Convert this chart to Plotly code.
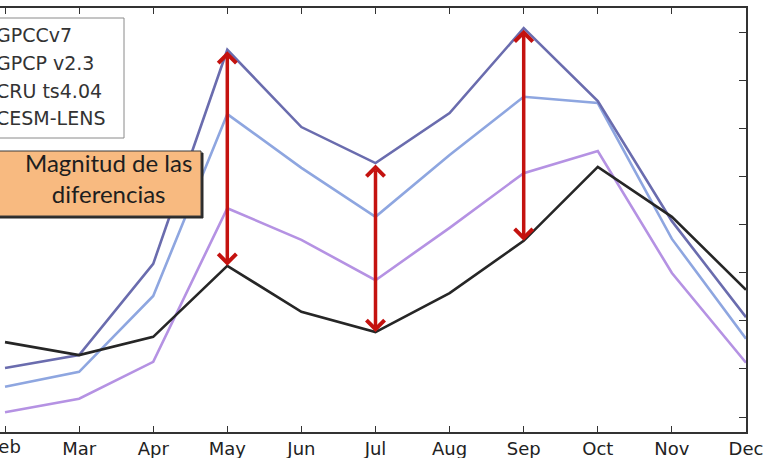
import plotly.graph_objects as go

months = [2, 3, 4, 5, 6, 7, 8, 9, 10, 11, 12]
month_labels = ["Feb", "Mar", "Apr", "May", "Jun", "Jul", "Aug", "Sep", "Oct", "Nov", "Dec"]

gpcc = [2.02, 2.29, 4.19, 8.65, 7.04, 6.29, 7.33, 9.10, 7.58, 5.08, 3.08]
gpcp = [1.63, 1.94, 3.52, 7.31, 6.19, 5.17, 6.46, 7.67, 7.54, 4.71, 2.63]
cru = [1.10, 1.38, 2.15, 5.35, 4.69, 3.85, 4.94, 6.08, 6.54, 4.00, 2.13]
cesm = [2.56, 2.29, 2.67, 4.15, 3.19, 2.77, 3.58, 4.67, 6.21, 5.17, 3.65]

series_names = ["GPCCv7", "GPCP v2.3", "CRU ts4.04", "CESM-LENS"]
arrow_months = [5, 7, 9]
box_text = "Magnitud de las<br>diferencias"

fig = go.Figure()
styles = [
    (cru, "#b592e3", series_names[2]),
    (gpcp, "#8ea6e0", series_names[1]),
    (gpcc, "#6a6cae", series_names[0]),
    (cesm, "#262626", series_names[3]),
]
for vals, col, name in styles:
    fig.add_trace(go.Scatter(x=months, y=vals, mode="lines", name=name,
                             line=dict(color=col, width=2.6), showlegend=False))

W_PLOT = 746.0
H_PLOT = 424.0
def px(p):
    return p / W_PLOT
def py(p):
    return (432.0 - p) / H_PLOT

# legend box
fig.add_shape(type="rect", xref="paper", yref="paper",
              x0=px(-5), x1=px(124), y0=py(138), y1=py(18),
              line=dict(color="#8a8a8a", width=1), fillcolor="white", layer="above")
for i, (name, yy) in enumerate(zip(series_names, [35, 63, 91, 118])):
    fig.add_annotation(xref="paper", yref="paper", x=px(-6), y=py(yy),
                       xanchor="left", yanchor="middle", showarrow=False,
                       text=name, font=dict(family="DejaVu Sans", size=19, color="#333333"))

# orange box with shadow
fig.add_shape(type="rect", xref="paper", yref="paper",
              x0=px(-5), x1=px(203), y0=py(218), y1=py(153),
              line=dict(color="#2a2a2a", width=1), fillcolor="#2a2a2a", layer="above")
fig.add_shape(type="rect", xref="paper", yref="paper",
              x0=px(-5), x1=px(201), y0=py(216), y1=py(151),
              line=dict(color="#3a3a3a", width=1), fillcolor="#f8ba80", layer="above")
fig.add_annotation(xref="paper", yref="paper", x=px(109), y=py(178),
                   xanchor="center", yanchor="middle", showarrow=False,
                   text=box_text, font=dict(family="Lato", size=24, color="#1e1e1e"))

# double-headed arrows
for m in arrow_months:
    i = months.index(m)
    fig.add_annotation(x=m, y=cesm[i], ax=m, ay=gpcc[i], xref="x", yref="y",
                       axref="x", ayref="y", showarrow=True, text="",
                       arrowhead=4, startarrowhead=4, arrowside="end+start",
                       arrowsize=1, startarrowsize=1, arrowwidth=3.5,
                       arrowcolor="#c4120f")

# first month label (partially outside the visible area)
fig.add_annotation(xref="x", yref="paper", x=months[0], y=0, yanchor="top",
                   xanchor="center", yshift=-2, showarrow=False, text=month_labels[0],
                   font=dict(family="DejaVu Sans", size=18, color="#222222"))

fig.update_layout(
    width=767, height=458,
    margin=dict(l=0, r=21, t=8, b=26),
    paper_bgcolor="white", plot_bgcolor="white",
    showlegend=False,
)
fig.update_xaxes(range=[2 - 5 / 74, 12], tickvals=months, ticktext=month_labels,
                 showgrid=False, zeroline=False, showline=True, linecolor="#333333",
                 linewidth=1.5, mirror="ticks", ticks="inside", ticklen=6,
                 tickcolor="#333333", tickwidth=1.2,
                 tickfont=dict(family="DejaVu Sans", size=18, color="#222222"))
fig.update_yaxes(range=[0.6875, 9.52], tickvals=[1, 2, 3, 4, 5, 6, 7, 8, 9],
                 showticklabels=False, side="right", showgrid=False, zeroline=False,
                 showline=True, linecolor="#333333", linewidth=1.5, mirror=False,
                 ticks="inside", ticklen=7, tickcolor="#333333", tickwidth=1.2)

fig.write_html("out.html", config={"displayModeBar": False},
               post_script="document.body.style.margin='0';document.body.style.overflow='hidden';")
